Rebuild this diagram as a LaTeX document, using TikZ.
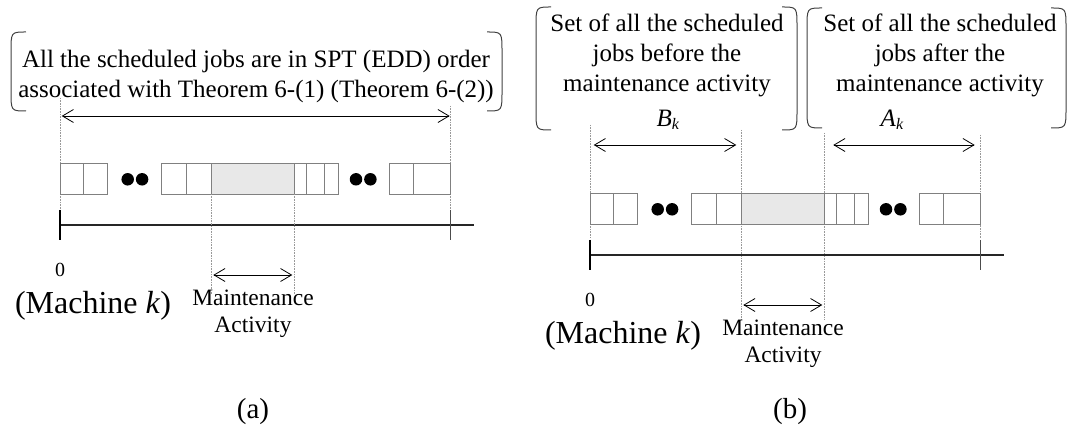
\documentclass[tikz,border=0pt]{standalone}
\usepackage{fontspec}
\setmainfont{Liberation Serif}
\usetikzlibrary{positioning, arrows.meta}
\newcommand{\topfont}{\fontsize{25}{30}\selectfont}
\newcommand{\maintfont}{\fontsize{23.5}{27}\selectfont}
\newcommand{\machinefont}{\fontsize{32}{36}\selectfont}
\newcommand{\zerofont}{\fontsize{20}{24}\selectfont}
\newcommand{\capfont}{\fontsize{29}{34}\selectfont}
\newcommand{\Sub}[2]{\textit{#1}\raisebox{-0.3ex}{\fontsize{16}{16}\selectfont\textit{#2}}}
\tikzset{
    jobcell/.style={draw=black!50, line width=0.8pt, fill=white, minimum height=31pt, inner sep=0pt, outer sep=0pt},
    maintcell/.style={jobcell, fill=black!9},
    jobdot/.style={circle, fill=black, minimum size=12.5pt, inner sep=0pt},
    guide/.style={draw=black!40, densely dotted, line width=0.6pt},
    span/.style={{Straight Barb[length=11pt,width=13pt]}-{Straight Barb[length=11pt,width=13pt]}, line width=0.8pt},
    bracket/.style={draw=black!75, line width=1pt},
    axis/.style={line width=1.2pt, draw=black!85},
}
% one machine: job cells, time axis and the labels below it
\newcommand{\MachineRow}{%
    \node[jobcell, minimum width=22.6pt, anchor=west] (c1) at (60.7,178.5) {};
    \node[jobcell, minimum width=24.4pt, right=0pt of c1] (c2) {};
    \node[jobdot] (d1) at (127.7,179.3) {};
    \node[jobdot, right=1.5pt of d1] (d2) {};
    \node[jobcell, minimum width=25pt, anchor=west] (c3) at (161.7,178.5) {};
    \node[jobcell, minimum width=24.6pt, right=0pt of c3] (c4) {};
    \node[maintcell, minimum width=83pt, right=0pt of c4] (m) {};
    \node[jobcell, minimum width=11.7pt, right=0pt of m] (c5) {};
    \node[jobcell, minimum width=18pt, right=0pt of c5] (c6) {};
    \node[jobcell, minimum width=14.3pt, right=0pt of c6] (c7) {};
    \node[jobdot] (d3) at (356,179.3) {};
    \node[jobdot, right=1.5pt of d3] (d4) {};
    \node[jobcell, minimum width=24.7pt, anchor=west] (c8) at (389,178.5) {};
    \node[jobcell, minimum width=37pt, right=0pt of c8] (c9) {};
    \coordinate (origin) at (60,225);
    \coordinate (horizon) at (474,225);
    \draw[axis] (origin) -- (horizon);
    \draw[line width=1.2pt] (origin) ++(0,-15) -- ++(0,30);
    \draw[line width=1.2pt, draw=black!70] (c9.east |- origin) ++(0,-15) -- ++(0,30);
    \node[font=\zerofont] (zero) at (60,270) {0};
    \node[font=\machinefont] (machine) at (93,306) {(Machine \textit{k})};
    \node[font=\maintfont, align=center] (maint) at (253,314) {Maintenance\\Activity};
    \draw[span, shorten <=2pt, shorten >=2pt] (m.west |- 0,275) -- (m.east |- 0,275);
}
\newcommand{\Brackets}[4]{% left x, right x, top y, bottom y
    \draw[bracket] (#1+15,#3) .. controls (#1,#3) .. (#1,#3+20) -- (#1,#4-20) .. controls (#1,#4) .. (#1+15,#4);
    \draw[bracket] (#2-15,#3) .. controls (#2,#3) .. (#2,#3+20) -- (#2,#4-20) .. controls (#2,#4) .. (#2-15,#4);
}

\begin{document}
\begin{tikzpicture}[x=1pt, y=-1pt]
    \useasboundingbox (0,0) rectangle (1068,435);

    % (a)
    \begin{scope}[name prefix=a-]
      \draw[guide] (60,98) -- (60,210);
      \draw[guide] (450.7,106) -- (450.7,210);
      \MachineRow
      \draw[guide] (m.south west) -- (m.south west |- 0,294);
      \draw[guide] (m.south east) -- (m.south east |- 0,294);
      \draw[span, shorten <=1pt, shorten >=1pt] (c1.west |- 0,116) -- (c9.east |- 0,116);
    \end{scope}
    \node[font=\topfont, align=center] (allset) at (256,76)
      {All the scheduled jobs are in SPT (EDD) order\\associated with Theorem 6-(1) (Theorem 6-(2))};
    \Brackets{11}{502}{32}{111}
    \node[font=\capfont] (capa) at (253,412) {(a)};

    % (b)
    \begin{scope}[name prefix=b-, shift={(530,30)}]
      \draw[guide] (60,95) -- (60,208);
      \draw[guide] (211.3,100) -- (211.3,290);
      \draw[guide] (294.3,103) -- (294.3,290);
      \draw[guide] (450.7,105) -- (450.7,208);
      \MachineRow
      \draw[span, shorten <=3pt, shorten >=5pt] (c1.west |- 0,115) -- (m.west |- 0,115);
      \draw[span, shorten <=9pt, shorten >=6pt] (m.east |- 0,115) -- (c9.east |- 0,115);
    \end{scope}
    \node[font=\topfont, align=center] (before) at (667,55)
      {Set of all the scheduled\\jobs before the\\maintenance activity};
    \node[font=\topfont] (bk) at (668,120) {\Sub{B}{k}};
    \node[font=\topfont, align=center] (after) at (940,55)
      {Set of all the scheduled\\jobs after the\\maintenance activity};
    \node[font=\topfont] (ak) at (892,120) {\Sub{A}{k}};
    \Brackets{536}{797}{7}{130}
    \Brackets{807}{1066}{8}{128}
    \node[font=\capfont] (capb) at (790,412) {(b)};
\end{tikzpicture}
\end{document}
